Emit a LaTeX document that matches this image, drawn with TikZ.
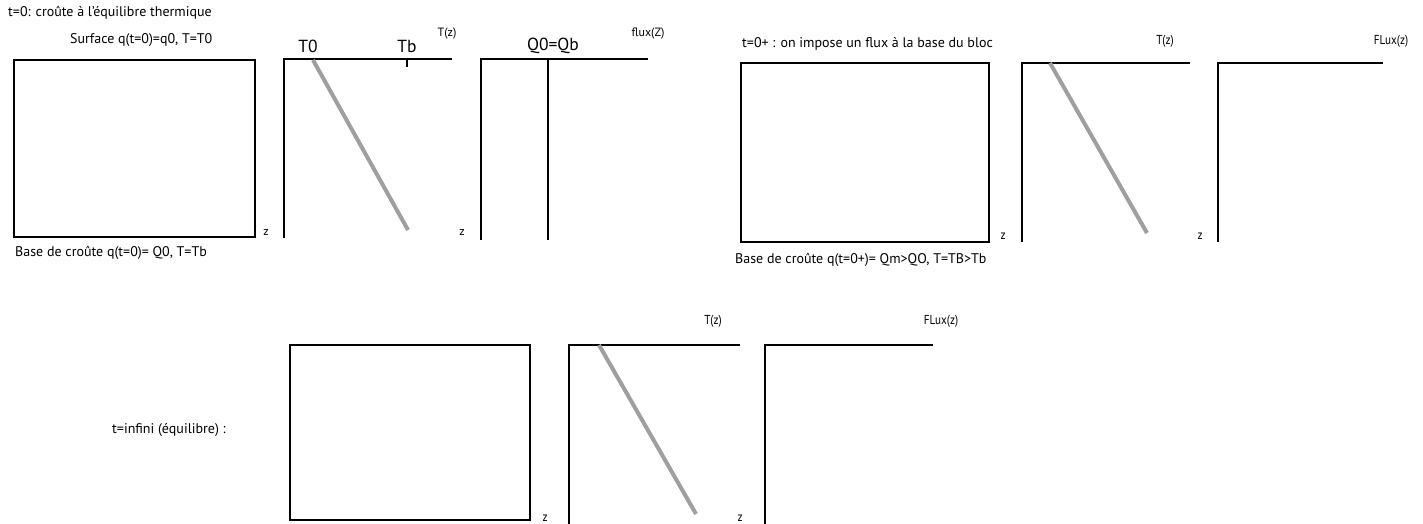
\documentclass[tikz,border=0pt]{standalone}
\usepackage{fontspec}
\setmainfont{PT Sans}
\newfontfamily\condfont[FakeStretch=0.86]{PT Sans}
\begin{document}
\begin{tikzpicture}[x=1pt,y=-1pt,
  axis/.style={line width=2pt,black},
  prof/.style={line width=4pt,color=gray!75},
  lbl/.style={inner sep=0pt,font=\fontsize{14}{16}\selectfont},
  small/.style={inner sep=0pt,font=\fontsize{12}{14}\selectfont},
  csmall/.style={inner sep=0pt,font=\condfont\fontsize{13}{15}\selectfont},
  big/.style={inner sep=0pt,font=\fontsize{17.5}{19}\selectfont}]
\useasboundingbox (0,0) rectangle (1423,524);
% ---- panel 1 ----
\node[lbl,anchor=west] (t0) at (8,13) {t=0: croûte à l’équilibre thermique};
\node[lbl,anchor=west] (surf) at (70,40) {Surface q(t=0)=q0, T=T0};
\draw[axis] (14,60) rectangle (255,237);
\node[small] (z1) at (266,232) {z};
\node[lbl,anchor=west] (base1) at (15,253) {Base de croûte q(t=0)= Q0, T=Tb};
\draw[axis] (284,238) -- (284,59) -- (452,59);
\draw[axis] (407,59) -- (407,67);
\draw[prof] (313,60) -- (408,230);
\node[big] (T0) at (308,46) {T0};
\node[big] (Tb) at (407,46) {Tb};
\node[small] (Tz1) at (447,34) {T(z)};
\node[small] (z2) at (462,232) {z};
\draw[axis] (481,240) -- (481,59) -- (648,59);
\draw[axis] (548,59) -- (548,240);
\node[big] (Q0) at (553,46) {Q0=Qb};
\node[small] (fz1) at (648,34) {flux(Z)};
% ---- panel 2 ----
\node[lbl,anchor=west] (t0p) at (742,44) {t=0+ : on impose un flux à la base du bloc};
\draw[axis] (741,63) rectangle (989,242);
\node[csmall] (z3) at (1003,236) {z};
\node[lbl,anchor=west] (base2) at (735,260) {Base de croûte q(t=0+)= Qm>QO, T=TB>Tb};
\draw[axis] (1022,242) -- (1022,63) -- (1190,63);
\draw[prof] (1050,63) -- (1147,233);
\node[csmall] (Tz2) at (1165,41) {T(z)};
\node[csmall] (z4) at (1200,236) {z};
\draw[axis] (1218,242) -- (1218,63) -- (1383,63);
\node[csmall] (fz2) at (1391,41) {FLux(z)};
% ---- panel 3 ----
\node[lbl,anchor=west] (tinf) at (112,430) {t=infini (équilibre) :};
\draw[axis] (290,345) rectangle (530,520);
\node[csmall] (z5) at (545,518) {z};
\draw[axis] (569,524) -- (569,345) -- (740,345);
\draw[prof] (599,345) -- (696,514);
\node[csmall] (Tz3) at (713,321) {T(z)};
\node[csmall] (z6) at (740,518) {z};
\draw[axis] (765,524) -- (765,345) -- (933,345);
\node[csmall] (fz3) at (941,321) {FLux(z)};
\end{tikzpicture}
\end{document}
